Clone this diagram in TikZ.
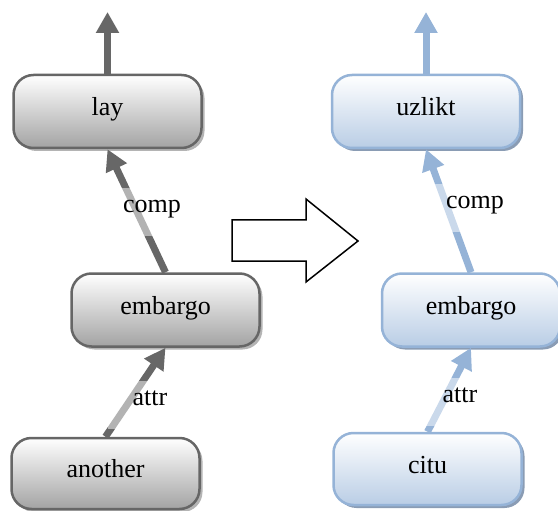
\documentclass[tikz,border=0pt]{standalone}
\usepackage{fontspec}
\setmainfont{Liberation Serif}
\usetikzlibrary{arrows.meta,shadows}
\definecolor{gborder}{HTML}{666666}
\definecolor{gfill}{HTML}{A3A3A3}
\definecolor{gshadow}{HTML}{B4B4B4}
\definecolor{gline}{HTML}{676767}
\definecolor{bborder}{HTML}{95B3D7}
\definecolor{bfill}{HTML}{B9CDE5}
\definecolor{bshadow}{HTML}{8A9CB4}
\definecolor{bline}{HTML}{95B3D7}
\tikzset{
  box/.style={rounded corners=20pt, minimum width=188pt, minimum height=73pt,
    line width=2.5pt, font=\fontsize{26}{30}\selectfont,
    text height=18pt, text depth=10pt, inner sep=0pt},
  gbox/.style={box, draw=gborder, top color=white, bottom color=gfill,
    drop shadow={shadow xshift=3pt, shadow yshift=-3pt, fill=gshadow, opacity=1}},
  bbox/.style={box, draw=bborder, top color=white, bottom color=bfill,
    drop shadow={shadow xshift=3pt, shadow yshift=-3pt, fill=bshadow, opacity=1}},
  garrow/.style={draw=gline, line width=7pt, -{Triangle[width=22pt,length=21pt]}},
  barrow/.style={draw=bline, line width=7pt, -{Triangle[width=22pt,length=21pt]}},
  lbl/.style={fill=white, fill opacity=0.5, text opacity=1,
    font=\fontsize{26}{30}\selectfont, text height=18pt, text depth=18pt,
    inner xsep=25pt, inner ysep=6pt},
}
\begin{document}
\begin{tikzpicture}[x=1pt,y=-1pt]
\useasboundingbox (0,0) rectangle (558,511);

% left tree
\node[gbox] (lay) at (107.5,111.5) {lay};
\node[gbox] (embL) at (165.5,310) {embargo};
\node[gbox, minimum height=71pt] (another) at (105.5,473.5) {another};
\coordinate (ltop) at (107.5,12);
\draw[garrow] (lay.north) -- (ltop);
\draw[garrow] (embL.north) -- (lay.south);
\draw[garrow] (another.north) -- (embL.south);
\node[lbl] (lcomp) at (152,212) {comp};
\node[lbl] (lattr) at (150,405) {attr};

% right tree
\node[bbox] (uzlikt) at (426,111.5) {uzlikt};
\node[bbox, minimum width=178pt] (embR) at (471,310) {embargo};
\node[bbox, minimum height=72pt] (citu) at (427.5,469) {citu};
\coordinate (rtop) at (426,12);
\draw[barrow] (uzlikt.north) -- (rtop);
\draw[barrow] (embR.north) -- (uzlikt.south);
\draw[barrow] (citu.north) -- (embR.south);
\node[lbl] (rcomp) at (475,208) {comp};
\node[lbl] (rattr) at (460,402) {attr};

% transformation arrow
\draw[line width=1.5pt, line join=miter] (232,220) -- (306,220) -- (306,199) -- (358,241)
  -- (306,282) -- (306,261) -- (232,261) -- cycle;
\end{tikzpicture}
\end{document}
